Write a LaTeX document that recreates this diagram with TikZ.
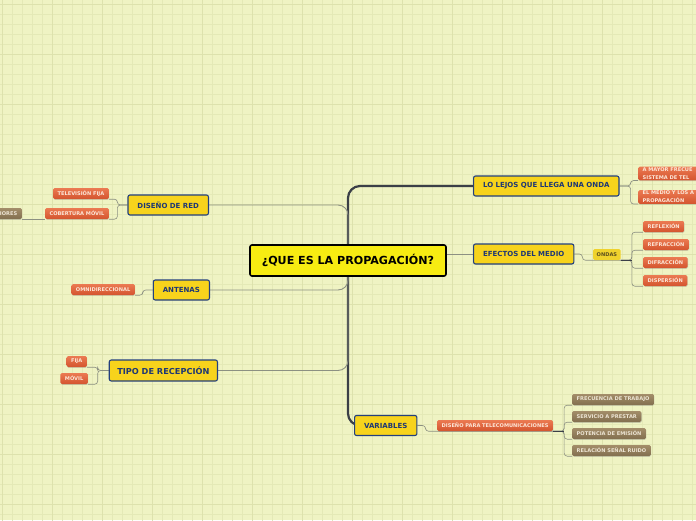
\documentclass[tikz,border=0pt]{standalone}
\usepackage{fontspec}
\setsansfont{DejaVu Sans}
\renewcommand{\familydefault}{\sfdefault}
\usepackage{xcolor}
\usetikzlibrary{positioning, shadows}

\definecolor{fondo}{HTML}{EFF3C3}
\definecolor{rejilla}{HTML}{E4E9B6}
\definecolor{rejillados}{HTML}{DDE2AD}
\definecolor{raizfill}{HTML}{F7EC12}
\definecolor{temafill}{HTML}{F7D31C}
\definecolor{temaborde}{HTML}{23407E}
\definecolor{tematexto}{HTML}{1E3774}
\definecolor{naranjaA}{HTML}{EB7A52}
\definecolor{naranjaB}{HTML}{D4542E}
\definecolor{naranjatexto}{HTML}{FCE6D8}
\definecolor{marronA}{HTML}{A38D69}
\definecolor{marronB}{HTML}{826F4F}
\definecolor{marrontexto}{HTML}{EDE5D4}
\definecolor{ondasfill}{HTML}{EFD22C}
\definecolor{ondastexto}{HTML}{5A4E1E}
\definecolor{troncocol}{HTML}{3B3F47}
\definecolor{enlacecol}{HTML}{8C9082}

\pgfdeclarelayer{fondocapa}
\pgfdeclarelayer{enlaces}
\pgfsetlayers{fondocapa,enlaces,main}

\begin{document}
\begin{tikzpicture}[x=1pt, y=-1pt,
    raiz/.style={draw=black, line width=1.6pt, fill=raizfill, rounded corners=2pt,
        minimum width=196pt, minimum height=31pt, font=\fontsize{11.1}{12}\bfseries},
    tema/.style={draw=temaborde, line width=1.1pt, fill=temafill, rounded corners=2pt,
        minimum height=20pt, inner xsep=9.5pt, font=\fontsize{7}{8}\bfseries, text=tematexto},
    subnaranja/.style={top color=naranjaA, bottom color=naranjaB, rounded corners=1.5pt,
        minimum height=11pt, inner xsep=4.5pt, inner ysep=1pt, text=naranjatexto,
        font=\fontsize{5.1}{7.8}\bfseries,
        drop shadow={shadow xshift=0.4pt, shadow yshift=-0.8pt, opacity=0.3}},
    submarron/.style={subnaranja, top color=marronA, bottom color=marronB, text=marrontexto},
    ondas/.style={fill=ondasfill, rounded corners=1.5pt, minimum height=11pt, inner xsep=3.5pt,
        font=\fontsize{5.1}{6}\bfseries, text=ondastexto},
    tronco/.style={draw=troncocol, line width=2.2pt, rounded corners=12pt},
    enlace/.style={draw=enlacecol, line width=0.9pt, rounded corners=10pt},
    sub/.style={draw=enlacecol, line width=0.6pt, rounded corners=3pt},
]
    \useasboundingbox (0,0) rectangle (696,520);

    % Fondo cuadriculado
    \begin{pgfonlayer}{fondocapa}
        \fill[fondo] (0,0) rectangle (696,520);
        \draw[rejilla, line width=0.5pt, shift={(2,4)}, step=10pt] (-2,-4) grid (696,520);
        \draw[rejillados, line width=0.7pt, shift={(2,4)}, step=50pt] (-2,-4) grid (696,520);
    \end{pgfonlayer}

    % Idea central
    \node[raiz] (raiz) at (348,260.5) {¿QUE ES LA PROPAGACIÓN?};

    % Temas principales
    \node[tema, anchor=west] (lejos) at (473,186) {LO LEJOS QUE LLEGA UNA ONDA};
    \node[tema, anchor=west] (efectos) at (473,254) {EFECTOS DEL MEDIO};
    \node[tema, anchor=west] (variables) at (354,425.5) {VARIABLES};
    \node[tema, anchor=east] (diseno) at (209,205) {DISEÑO DE RED};
    \node[tema, anchor=east] (antenas) at (210,290) {ANTENAS};
    \node[tema, anchor=east, minimum height=21pt, inner xsep=8pt, font=\fontsize{8.2}{9}\bfseries]
        (recepcion) at (218,370.5) {TIPO DE RECEPCIÓN};

    % Subtemas
    \node[subnaranja, anchor=west, text width=62pt, align=left] (frecuencia) at (638,173.5)
        {A MAYOR FRECUE\\SISTEMA DE TEL};
    \node[subnaranja, anchor=west, text width=62pt, align=left] (medio) at (638,197)
        {EL MEDIO Y LOS A\\PROPAGACIÓN};
    \node[ondas, anchor=west] (ondasn) at (593,254.5) {ONDAS};
    \node[subnaranja, anchor=west] (reflexion) at (643,226.5) {REFLEXIÓN};
    \node[subnaranja, anchor=west] (refraccion) at (643,244.5) {REFRACCIÓN};
    \node[subnaranja, anchor=west] (difraccion) at (643,262.5) {DIFRACCIÓN};
    \node[subnaranja, anchor=west] (dispersion) at (643,280.5) {DISPERSIÓN};
    \node[subnaranja, anchor=west] (disenotel) at (437,425.5) {DISEÑO PARA TELECOMUNICACIONES};
    \node[submarron, anchor=west] (trabajo) at (572,399.5) {FRECUENCIA DE TRABAJO};
    \node[submarron, anchor=west] (prestar) at (572,416.5) {SERVICIO A PRESTAR};
    \node[submarron, anchor=west] (emision) at (572,433.5) {POTENCIA DE EMISIÓN};
    \node[submarron, anchor=west] (ruido) at (572,450.5) {RELACIÓN SEÑAL RUIDO};
    \node[subnaranja, anchor=east] (tvfija) at (109,193.5) {TELEVISIÓN FIJA};
    \node[subnaranja, anchor=east] (cobertura) at (109,213.5) {COBERTURA MÓVIL};
    \node[submarron, anchor=east] (iores) at (22,213.5) {IORES};
    \node[subnaranja, anchor=east] (omni) at (135,289.5) {OMNIDIRECCIONAL};
    \node[subnaranja, anchor=east] (fija) at (87,361.5) {FIJA};
    \node[subnaranja, anchor=east] (movil) at (88,378.5) {MÓVIL};

    \begin{pgfonlayer}{enlaces}
        % Tronco y ramas
        \draw[tronco] (lejos.west) -| (raiz.center) |- (variables.west);
        \draw[enlace] (diseno.east) -| (raiz.north);
        \draw[enlace] (antenas.east) -| (raiz.south);
        \draw[enlace] (recepcion.east) -| (raiz.south);
        \draw[enlace] (efectos.west) -- (efectos.west -| raiz.east);

        % Lado derecho
        \foreach \n in {frecuencia, medio}
            \draw[sub] (lejos.east) -- ++(11,0) |- (\n.south west);
        \draw[sub] (efectos.east) -- ++(8,0) |- (ondasn.south west) -- (ondasn.south east);
        \foreach \n in {reflexion, refraccion, difraccion, dispersion}
            \draw[sub] (ondasn.south east) -- ++(11,0) |- (\n.south west);
        \draw[troncocol, line width=1.1pt] (ondasn.south east) -- ++(11,0);
        \draw[sub] (variables.east) -- ++(8,0) |- (disenotel.south west) -- (disenotel.south east);
        \foreach \n in {trabajo, prestar, emision, ruido}
            \draw[sub] (disenotel.south east) -- ++(11,0) |- (\n.south west);
        \draw[troncocol, line width=1.1pt] (disenotel.south east) -- ++(11,0);

        % Lado izquierdo
        \foreach \n in {tvfija, cobertura}
            \draw[sub] (diseno.west) -- ++(-10,0) |- (\n.south east);
        \draw[sub] (cobertura.south west) -- (iores.south east);
        \draw[sub] (antenas.west) -- ++(-10,0) |- (omni.south east);
        \foreach \n in {fija, movil}
            \draw[sub] (recepcion.west) -- ++(-11,0) |- (\n.south east);
    \end{pgfonlayer}
\end{tikzpicture}
\end{document}
